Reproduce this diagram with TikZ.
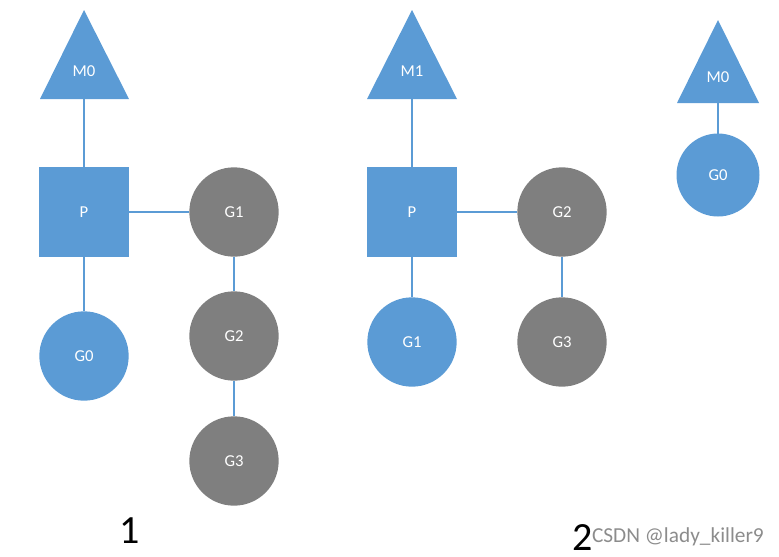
\documentclass[tikz,border=0pt]{standalone}
\usepackage{fontspec}
\setmainfont{Carlito}
\usepackage{tikz}
\usetikzlibrary{positioning}
\definecolor{gblue}{HTML}{5B9BD5}
\definecolor{ggray}{HTML}{7F7F7F}
\tikzset{>=stealth}
\tikzset{
  link/.style={draw=gblue, line width=0.8pt},
  proc/.style={fill=gblue, minimum size=67.5pt, inner sep=0pt, text=white, font=\fontsize{12.5}{14}\selectfont},
  grun/.style={circle, fill=gblue, minimum size=67pt, inner sep=0pt, text=white, font=\fontsize{12.5}{14}\selectfont},
  gwait/.style={circle, fill=ggray, minimum size=67pt, inner sep=0pt, text=white, font=\fontsize{12.5}{14}\selectfont},
  mlabel/.style={inner sep=0pt, text=white, font=\fontsize{12.5}{14}\selectfont},
  num/.style={inner sep=0pt, anchor=base, font=\fontsize{30}{32}\selectfont}
}

\begin{document}
\begin{tikzpicture}[x=0.75pt, y=-0.75pt, outer sep=0pt]
\useasboundingbox (0, 0) rectangle (779, 557);
% first state
\fill[gblue] (84, 10) -- (129, 99) -- (40, 99) -- cycle;
\node[mlabel] (mA) at (84, 71) {M0};
\coordinate (mAb) at (84, 99);
\node[proc] (pA) at (84, 212) {P};
\node[grun] (gA0) at (84, 356) {G0};
\node[gwait] (gA1) at (234, 212) {G1};
\node[gwait] (gA2) at (234, 336) {G2};
\node[gwait] (gA3) at (234, 461) {G3};
\draw[link] (mAb) -- (pA.north);
\draw[link] (pA.south) -- (gA0.north);
\draw[link] (pA.east) -- (gA1.west);
\draw[link] (gA1.south) -- (gA2.north);
\draw[link] (gA2.south) -- (gA3.north);
\node[num] (numA) at (130, 543) {1};
% second state
\fill[gblue] (412, 10) -- (457, 99) -- (367, 99) -- cycle;
\node[mlabel] (mB) at (412, 71) {M1};
\coordinate (mBb) at (412, 99);
\node[proc] (pB) at (412, 212) {P};
\node[grun] (gB1) at (412, 342) {G1};
\node[gwait] (gB2) at (562, 212) {G2};
\node[gwait] (gB3) at (562, 342) {G3};
\draw[link] (mBb) -- (pB.north);
\draw[link] (pB.south) -- (gB1.north);
\draw[link] (pB.east) -- (gB2.west);
\draw[link] (gB2.south) -- (gB3.north);
% M0 off on a syscall with G0
\fill[gblue] (718, 20) -- (759, 103) -- (677, 103) -- cycle;
\node[mlabel] (mC) at (718, 77) {M0};
\coordinate (mCb) at (718, 103);
\node[grun, minimum size=62.25pt] (gC0) at (718, 175) {G0};
\draw[link] (mCb) -- (gC0.north);
\node[num] (numB) at (583, 550) {2};
\node[anchor=west, inner sep=0pt, text=black!45, font=\fontsize{16}{18}\selectfont] (mark) at (592, 537) {CSDN @lady\_killer9};
\end{tikzpicture}
\end{document}
